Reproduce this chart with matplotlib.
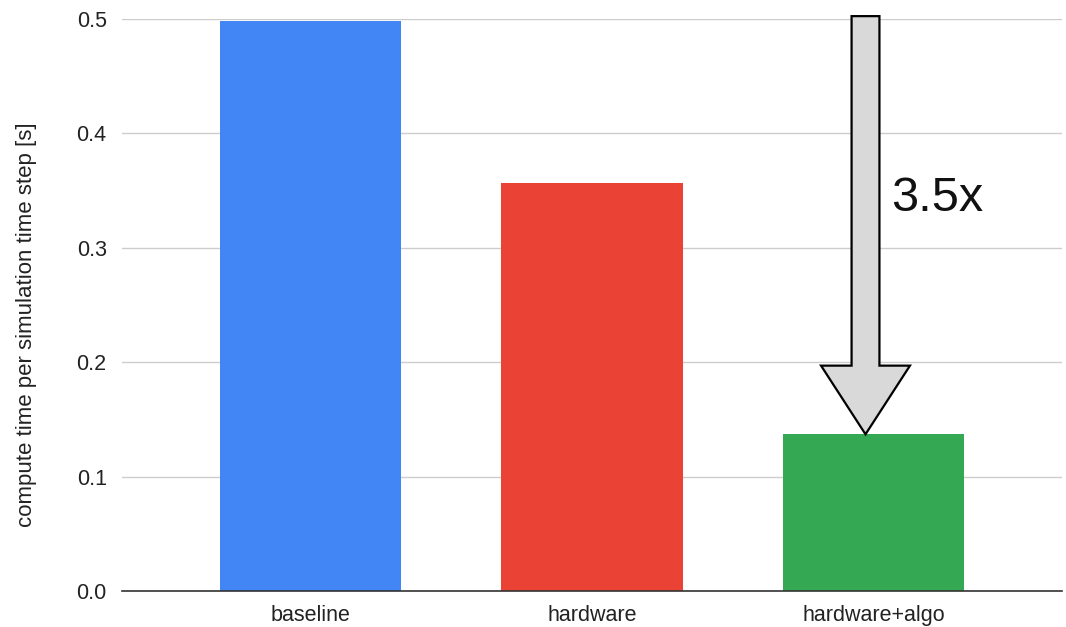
import matplotlib.pyplot as plt
import numpy as np
from matplotlib.patches import FancyArrow

plt.rcParams['font.family'] = ['Liberation Sans', 'DejaVu Sans']

# compute time per step for each configuration
categories = ['baseline', 'hardware', 'hardware+algo']
times = [0.498, 0.357, 0.137]
colors = ['#4285F4', '#EA4335', '#34A853']
speedup_label = '3.5x'

fig = plt.figure(figsize=(10.66, 6.27), dpi=100)
ax = fig.add_axes([0.1144, 0.0574, 0.8818, 0.9123])

x = np.arange(len(categories))
ax.bar(x, times, width=0.645, color=colors, zorder=3)

ax.set_xlim(-0.67, len(categories) - 1 + 0.67)
ax.set_ylim(0, 0.5)
ax.set_yticks([0.0, 0.1, 0.2, 0.3, 0.4, 0.5])
ax.set_yticklabels(['0.0', '0.1', '0.2', '0.3', '0.4', '0.5'])
ax.set_xticks(x)
ax.set_xticklabels(categories)
ax.tick_params(axis='both', length=0, labelsize=15.5, colors='#222222')
ax.tick_params(axis='y', pad=11)
ax.tick_params(axis='x', pad=10)

ax.grid(axis='y', color='#cccccc', linewidth=1, zorder=0)
for side in ['top', 'right', 'left']:
    ax.spines[side].set_visible(False)
ax.spines['bottom'].set_color('#333333')
ax.spines['bottom'].set_linewidth(1.2)
ax.spines['bottom'].set_zorder(4)

ax.set_ylabel('compute time per simulation time step [s]', fontsize=16,
              color='#222222')
ax.yaxis.set_label_coords(-0.0904, 0.465)

# speedup arrow from the top of the axis down to the last bar
x_arrow = x[-1] - 0.028
y_top = 0.5025
arrow = FancyArrow(x_arrow, y_top, 0, times[-1] - y_top,
                   width=0.099, head_width=0.316, head_length=0.060,
                   length_includes_head=True, facecolor='#d9d9d9',
                   edgecolor='black', linewidth=1.6, zorder=5, clip_on=False)
ax.add_patch(arrow)
ax.text(x_arrow + 0.09, 0.343, speedup_label, fontsize=35, color='#111111',
        ha='left', va='center', zorder=6)

fig.savefig('out.png', dpi=100)
